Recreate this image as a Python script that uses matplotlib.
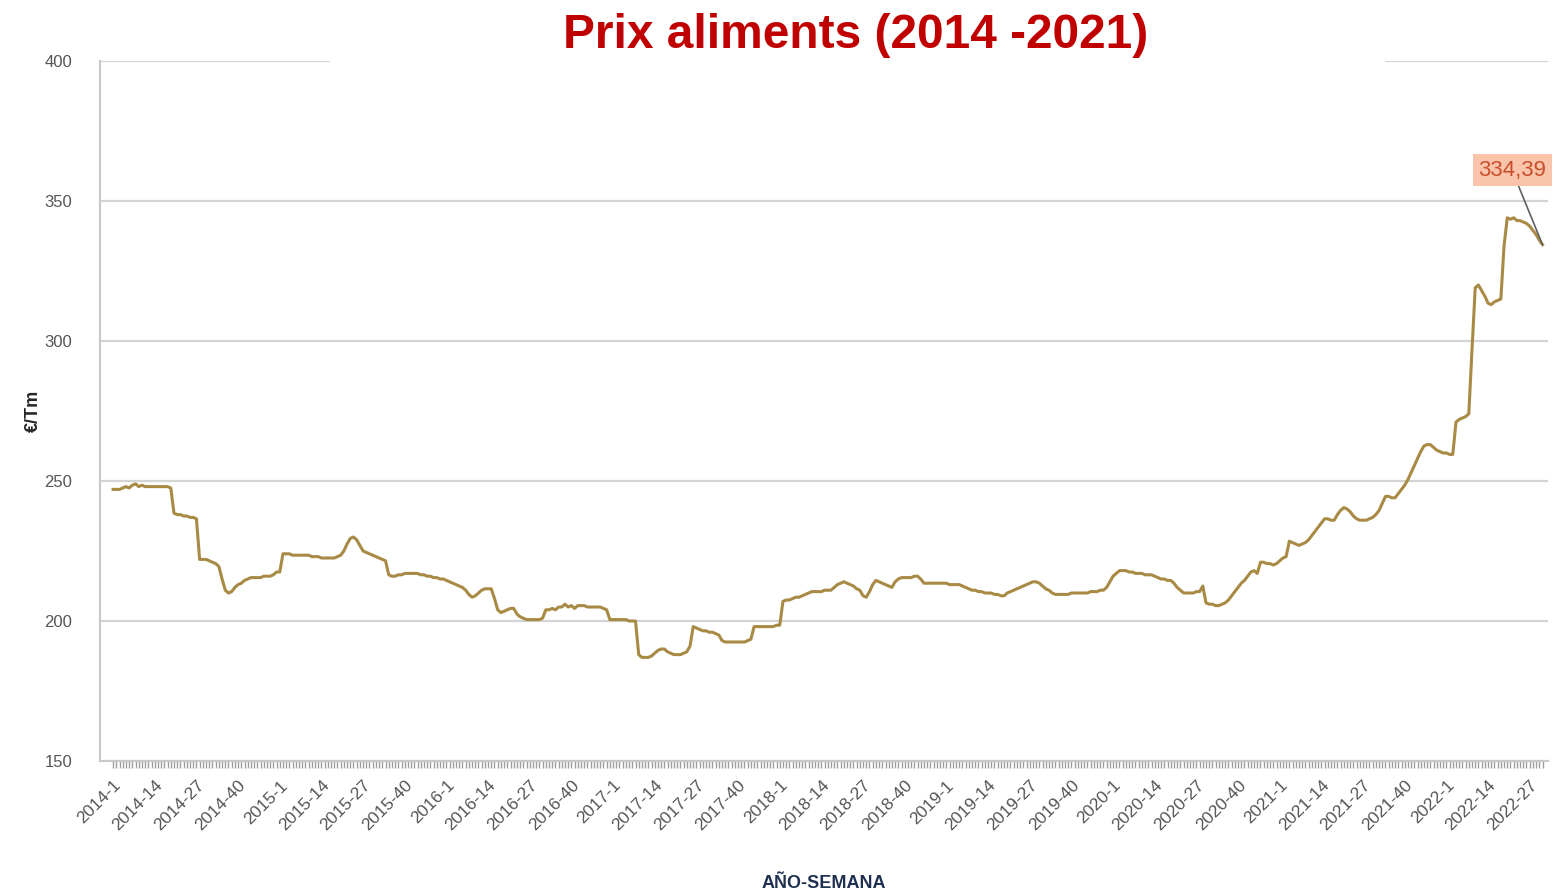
import numpy as np
import matplotlib.pyplot as plt
from matplotlib.patches import Rectangle

plt.rcParams['font.family'] = ['Liberation Sans', 'DejaVu Sans']

# Prix hebdomadaire (€/Tm), semaine 1 -> 52 de chaque année
p2014 = [247, 247, 247, 247.5, 248, 247.5, 248.5, 249, 248, 248.5, 248, 248, 248,
         248, 248, 248, 248, 248, 247.5, 238.5, 238, 238, 237.5, 237.5, 237, 237,
         236.5, 222, 222, 222, 221.5, 221, 220.5, 219.5, 215, 211, 210, 210.5, 212,
         213, 213.5, 214.5, 215, 215.5, 215.5, 215.5, 215.5, 216, 216, 216, 216.5, 217.5]
p2015 = [217.5, 224, 224, 224, 223.5, 223.5, 223.5, 223.5, 223.5, 223.5, 223, 223, 223,
         222.5, 222.5, 222.5, 222.5, 222.5, 223, 223.5, 225, 227.5, 229.5, 230, 229, 227,
         225, 224.5, 224, 223.5, 223, 222.5, 222, 221.5, 216.5, 216, 216, 216.5, 216.5,
         217, 217, 217, 217, 217, 216.5, 216.5, 216, 216, 215.5, 215.5, 215, 215]
p2016 = [214.5, 214, 213.5, 213, 212.5, 212, 211, 209.5, 208.5, 209, 210, 211, 211.5,
         211.5, 211.5, 208, 204, 203, 203.5, 204, 204.5, 204.5, 202.5, 201.5, 201, 200.5,
         200.5, 200.5, 200.5, 200.5, 201, 204, 204, 204.5, 204, 205, 205, 206, 205,
         205.5, 204.5, 205.5, 205.5, 205.5, 205, 205, 205, 205, 205, 204.5, 204, 200.5]
p2017 = [200.5, 200.5, 200.5, 200.5, 200.5, 200, 200, 200, 188, 187, 187, 187, 187.5,
         188.5, 189.5, 190, 190, 189, 188.5, 188, 188, 188, 188.5, 189, 191, 198,
         197.5, 197, 196.5, 196.5, 196, 196, 195.5, 195, 193, 192.5, 192.5, 192.5, 192.5,
         192.5, 192.5, 192.5, 193, 193.5, 198, 198, 198, 198, 198, 198, 198, 198.5]
p2018 = [198.5, 207, 207.5, 207.5, 208, 208.5, 208.5, 209, 209.5, 210, 210.5, 210.5, 210.5,
         210.5, 211, 211, 211, 212, 213, 213.5, 214, 213.5, 213, 212.5, 211.5, 211,
         209, 208.5, 210.5, 213, 214.5, 214, 213.5, 213, 212.5, 212, 214, 215, 215.5,
         215.5, 215.5, 215.5, 216, 216, 215, 213.5, 213.5, 213.5, 213.5, 213.5, 213.5, 213.5]
p2019 = [213.5, 213, 213, 213, 213, 212.5, 212, 211.5, 211, 211, 210.5, 210.5, 210,
         210, 210, 209.5, 209.5, 209, 209, 210, 210.5, 211, 211.5, 212, 212.5, 213,
         213.5, 214, 214, 213.5, 212.5, 211.5, 211, 210, 209.5, 209.5, 209.5, 209.5, 209.5,
         210, 210, 210, 210, 210, 210, 210.5, 210.5, 210.5, 211, 211, 212, 214]
p2020 = [216, 217, 218, 218, 218, 217.5, 217.5, 217, 217, 217, 216.5, 216.5, 216.5,
         216, 215.5, 215, 215, 214.5, 214.5, 213.5, 212, 211, 210, 210, 210, 210,
         210.5, 210.5, 212.5, 206.5, 206, 206, 205.5, 205.5, 206, 206.5, 207.5, 209, 210.5,
         212, 213.5, 214.5, 216, 217.5, 218, 217, 221, 221, 220.5, 220.5, 220, 220.5]
p2021 = [221.5, 222.5, 223, 228.5, 228, 227.5, 227, 227.5, 228, 229, 230.5, 232, 233.5,
         235, 236.5, 236.5, 236, 236, 238, 239.5, 240.5, 240, 239, 237.5, 236.5, 236,
         236, 236, 236.5, 237, 238, 239.5, 242, 244.5, 244.5, 244, 244, 245.5, 247,
         248.5, 250.5, 253, 255.5, 258, 260.5, 262.5, 263, 263, 262, 261, 260.5, 260]
p2022 = [260, 259.5, 259.5, 271, 272, 272.5, 273, 274, 297, 319, 320, 318, 316,
         313.5, 313, 314, 314.5, 315, 334, 344, 343.5, 344, 343, 343, 342.5, 342,
         341, 339.5, 338, 336, 334.39]

annees = [2014, 2015, 2016, 2017, 2018, 2019, 2020, 2021, 2022]
series = [p2014, p2015, p2016, p2017, p2018, p2019, p2020, p2021, p2022]

semaines = []
prix = []
for an, vals in zip(annees, series):
    for k, v in enumerate(vals):
        semaines.append(f"{an}-{k + 1}")
        prix.append(v)

x = np.arange(len(prix))
etiquettes_idx = [i for i, s in enumerate(semaines) if s.split('-')[1] in ('1', '14', '27', '40')]

fig = plt.figure(figsize=(15.57, 8.93), dpi=100)
ax = fig.add_axes([0.0642, 0.1478, 0.9300, 0.7839])

ax.plot(x, prix, color='#a88a45', linewidth=2.2, zorder=3)

ax.set_ylim(150, 400)
ax.set_xlim(-4.1, 447.7)
ax.set_yticks([150, 200, 250, 300, 350, 400])
ax.grid(axis='y', color='#d4d4d4', linewidth=1.6)
ax.set_axisbelow(True)

ax.set_xticks(etiquettes_idx)
ax.set_xticklabels([semaines[i] for i in etiquettes_idx], rotation=45, ha='right',
                   rotation_mode='anchor', fontsize=12.5, color='#555555')
ax.set_xticks(x, minor=True)
ax.tick_params(axis='x', which='both', length=5, color='#a0a0a0', width=1, pad=7)
ax.tick_params(axis='y', length=0, labelsize=12, labelcolor='#555555', pad=20)

for side in ['top', 'right']:
    ax.spines[side].set_visible(False)
ax.spines['left'].set_color('#c8c8c8')
ax.spines['left'].set_linewidth(1.5)
ax.spines['bottom'].set_color('#c8c8c8')
ax.spines['bottom'].set_linewidth(1.5)

ax.set_ylabel('€/Tm', fontsize=13, fontweight='bold', color='#262626', labelpad=2)
ax.set_xlabel('AÑO-SEMANA', fontsize=13, fontweight='bold', color='#1f3050', labelpad=30)

# Dernière valeur
ax.annotate(f"{prix[-1]:.2f}".replace('.', ','), xy=(x[-1], prix[-1]), xytext=(436.5, 361),
            ha='center', va='center', fontsize=16, color='#c94f2c',
            bbox=dict(boxstyle='square,pad=0.25', facecolor='#f9c4aa', edgecolor='none'),
            arrowprops=dict(arrowstyle='-', color='#606060', lw=1.2, shrinkA=0, shrinkB=0))

# Titre sur fond blanc
fig.patches.append(Rectangle((330 / 1557, 1 - 68 / 893), 1055 / 1557, 68 / 893,
                             transform=fig.transFigure, facecolor='white',
                             edgecolor='none', zorder=5))
fig.text(856 / 1557, 1 - 35 / 893, 'Prix aliments (2014 -2021)', ha='center', va='center',
         fontsize=34.5, fontweight='bold', color='#c00000', zorder=6)

fig.savefig('out.png', dpi=100)
